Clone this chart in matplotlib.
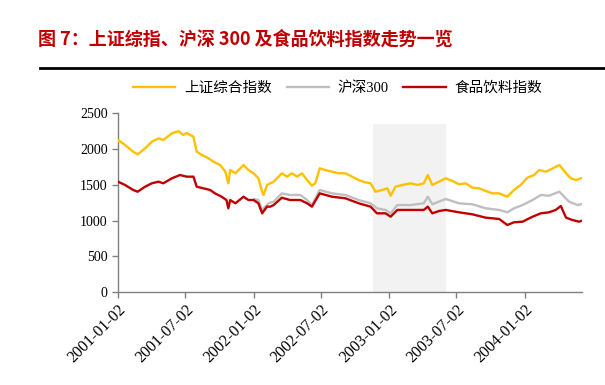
import matplotlib
matplotlib.use("Agg")
import matplotlib.pyplot as plt
import pandas as pd

# ---- data ----
sh_dates = ["2001-01-02","2001-01-03","2001-01-21","2001-02-12","2001-02-24","2001-03-16","2001-04-03",
            "2001-04-21","2001-05-04","2001-05-27","2001-06-14","2001-06-27","2001-07-06","2001-07-24",
            "2001-08-02","2001-08-16","2001-09-03","2001-09-16","2001-10-04","2001-10-18","2001-10-26",
            "2001-10-31","2001-11-14","2001-12-06","2001-12-19","2002-01-02","2002-01-15","2002-01-25",
            "2002-01-29","2002-02-07","2002-02-16","2002-02-25","2002-03-06","2002-03-19","2002-04-02",
            "2002-04-15","2002-04-29","2002-05-12","2002-05-26","2002-06-08","2002-06-17","2002-06-29",
            "2002-07-14","2002-08-01","2002-08-19","2002-09-06","2002-09-24","2002-10-12","2002-10-30",
            "2002-11-13","2002-11-26","2002-12-14","2002-12-28","2003-01-06","2003-01-19","2003-02-06",
            "2003-03-01","2003-03-19","2003-04-05","2003-04-16","2003-04-28","2003-05-16","2003-06-03",
            "2003-06-21","2003-07-09","2003-07-27","2003-08-14","2003-09-01","2003-09-19","2003-10-07",
            "2003-10-25","2003-11-16","2003-12-04","2003-12-22","2004-01-09","2004-01-27","2004-02-10",
            "2004-02-28","2004-03-17","2004-04-04","2004-04-22","2004-05-05","2004-05-19","2004-06-01"]
sh_values = [2110,2127,2057,1964,1927,2011,2103,2150,2127,2220,2250,2197,2225,2173,1964,1917,1871,1824,
             1778,1684,1522,1708,1662,1778,1708,1662,1592,1405,1359,1499,1522,1545,1592,1662,1615,1662,
             1615,1662,1568,1489,1522,1731,1708,1684,1662,1662,1615,1568,1536,1522,1405,1429,1452,1349,
             1475,1499,1522,1499,1522,1638,1499,1545,1592,1555,1508,1522,1461,1452,1415,1382,1382,1335,
             1429,1499,1601,1638,1708,1684,1731,1778,1662,1592,1568,1592]

hs_dates = ["2002-01-04","2002-01-15","2002-01-25","2002-02-11","2002-02-25","2002-03-19","2002-04-10",
            "2002-05-08","2002-05-26","2002-06-08","2002-06-29","2002-08-01","2002-09-06","2002-10-12",
            "2002-11-13","2002-11-30","2002-12-23","2003-01-06","2003-01-24","2003-03-01","2003-04-05",
            "2003-04-16","2003-04-28","2003-05-16","2003-06-03","2003-07-09","2003-08-14","2003-09-19",
            "2003-10-25","2003-11-16","2003-12-04","2003-12-27","2004-01-23","2004-02-14","2004-03-07",
            "2004-04-04","2004-04-30","2004-05-23","2004-06-01"]
hs_values = [1300,1289,1150,1243,1266,1382,1359,1359,1289,1219,1429,1382,1359,1289,1243,1173,1150,1103,
             1219,1219,1243,1335,1229,1266,1303,1243,1229,1173,1150,1117,1173,1219,1289,1359,1349,1405,
             1266,1219,1229]

fb_dates = ["2001-01-02","2001-01-21","2001-02-12","2001-02-24","2001-03-16","2001-04-03","2001-04-21",
            "2001-05-04","2001-05-27","2001-06-18","2001-07-06","2001-07-24","2001-08-02","2001-08-20",
            "2001-09-07","2001-09-20","2001-10-08","2001-10-21","2001-10-26","2001-10-31","2001-11-14",
            "2001-12-06","2001-12-19","2002-01-02","2002-01-15","2002-01-25","2002-02-07","2002-02-16",
            "2002-02-25","2002-03-19","2002-04-10","2002-05-08","2002-05-26","2002-06-08","2002-06-29",
            "2002-08-01","2002-09-06","2002-10-12","2002-11-13","2002-11-30","2002-12-23","2003-01-06",
            "2003-01-24","2003-03-01","2003-04-05","2003-04-16","2003-04-28","2003-05-16","2003-06-03",
            "2003-07-09","2003-08-14","2003-09-19","2003-10-25","2003-11-16","2003-12-04","2003-12-27",
            "2004-01-23","2004-02-14","2004-03-07","2004-03-25","2004-04-08","2004-04-22","2004-05-09",
            "2004-05-27","2004-06-01"]
fb_values = [1545,1499,1429,1405,1475,1522,1545,1522,1592,1638,1615,1615,1475,1452,1429,1382,1335,1289,
             1173,1289,1243,1335,1289,1289,1243,1103,1196,1196,1219,1321,1289,1289,1243,1196,1382,1335,
             1313,1243,1196,1103,1103,1056,1150,1150,1150,1196,1103,1135,1150,1117,1089,1042,1024,940,
             978,986,1056,1103,1117,1150,1205,1042,1010,986,996]

tick_labels = ["2001-01-02","2001-07-02","2002-01-02","2002-07-02","2003-01-02","2003-07-02","2004-01-02"]
shade_start, shade_end, shade_top = "2002-11-20", "2003-06-03", 2350
series_names = ["上证综合指数", "沪深300", "食品饮料指数"]
title = "图 7：上证综指、沪深 300 及食品饮料指数走势一览"

# ---- plot ----
serif = ["Liberation Serif", "Noto Sans CJK SC"]
fig = plt.figure(figsize=(6.05, 3.85), dpi=100)
ax = fig.add_axes([0.195, 0.2408, 0.767, 0.4649])

ax.fill_between([pd.Timestamp(shade_start), pd.Timestamp(shade_end)], 0, shade_top,
                color="#F2F2F2", lw=0, zorder=0)
ax.plot(pd.to_datetime(sh_dates), sh_values, color="#FFC000", lw=1.7, label=series_names[0], zorder=3)
ax.plot(pd.to_datetime(hs_dates), hs_values, color="#BFBFBF", lw=1.7, label=series_names[1], zorder=3)
ax.plot(pd.to_datetime(fb_dates), fb_values, color="#C00000", lw=1.7, label=series_names[2], zorder=4)

ax.set_ylim(0, 2500)
ax.set_yticks([0, 500, 1000, 1500, 2000, 2500])
ax.set_xlim(pd.Timestamp("2001-01-02"), pd.Timestamp("2004-06-04"))
ax.set_xticks(pd.to_datetime(tick_labels))
ax.set_xticklabels(tick_labels, rotation=45, ha="right", rotation_mode="anchor")

for s in ["top", "right"]:
    ax.spines[s].set_visible(False)
for s in ["left", "bottom"]:
    ax.spines[s].set_color("#808080")
    ax.spines[s].set_linewidth(1.0)
ax.tick_params(axis="both", direction="out", color="#808080", length=4, width=1,
               labelsize=10, labelcolor="black")
ax.tick_params(axis="x", labelsize=11.5, pad=3)
for lab in ax.get_xticklabels() + ax.get_yticklabels():
    lab.set_family(serif)

fig.legend(loc="center", bbox_to_anchor=(0.558, 0.771), ncol=3, frameon=False,
           prop={"family": serif, "size": 10.5}, handlelength=2.9,
           columnspacing=1.0, handletextpad=0.6)

fig.text(0.063, 0.897, title, color="#C00000", fontsize=13, fontweight="bold",
         family=["Noto Sans CJK SC", "DejaVu Sans"], va="center", ha="left")
fig.add_artist(plt.Line2D([0.066, 1.0], [0.823, 0.823], color="black", lw=2,
                          transform=fig.transFigure))

fig.savefig("out.png", dpi=100)
